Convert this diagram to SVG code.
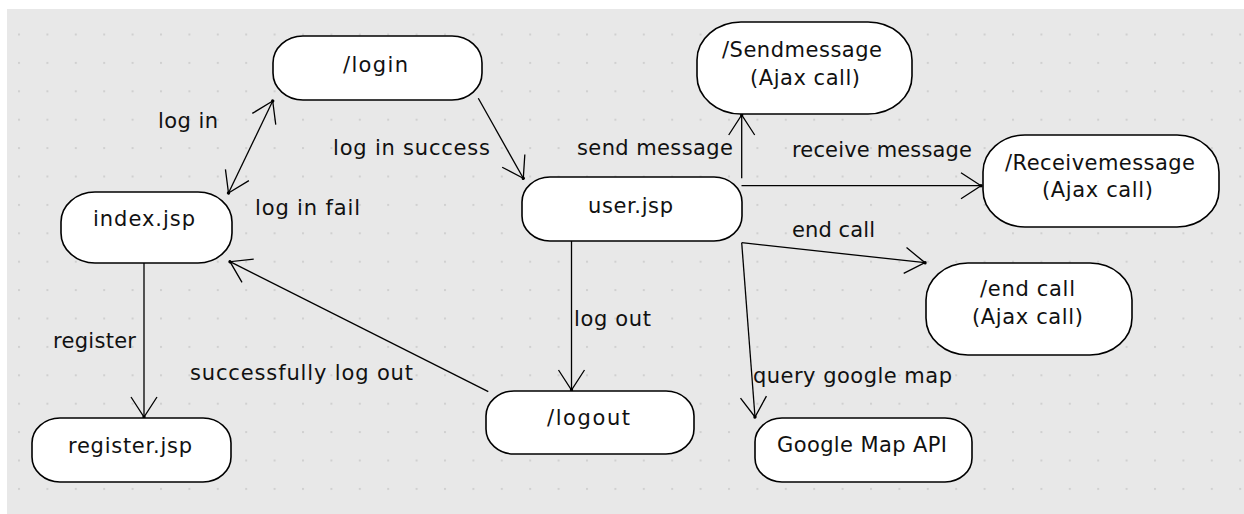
<svg xmlns="http://www.w3.org/2000/svg" width="1244" height="514" viewBox="0 0 1244 514">
  <defs>
    <pattern id="dots" x="18" y="33.5" width="28.4" height="28.4" patternUnits="userSpaceOnUse">
      <rect x="0" y="0" width="2" height="2" fill="#d0d0d0"/>
    </pattern>
    <marker id="arrow" viewBox="-24 -16 28 32" refX="0" refY="0" markerWidth="28" markerHeight="32" markerUnits="userSpaceOnUse" orient="auto-start-reverse">
      <path d="M-20,-13 L0,0 L-20,13" fill="none" stroke="#000" stroke-width="1.3"/>
      <circle cx="0" cy="0" r="1.7" fill="#000"/>
    </marker>
    <style>
      .state { fill: #ffffff; stroke: #000000; stroke-width: 1.6; }
      .edge { fill: none; stroke: #000000; stroke-width: 1.3; marker-end: url(#arrow); }
      text { font-family: "DejaVu Sans", "Liberation Sans", sans-serif; font-size: 21px; fill: #111111; }
    </style>
  </defs>

  <!-- canvas -->
  <rect x="0" y="0" width="1244" height="514" fill="#ffffff"/>
  <rect x="7" y="9" width="1237" height="505" fill="#e8e8e8"/>
  <rect x="7" y="9" width="1237" height="505" fill="url(#dots)"/>

  <!-- transitions -->
  <g id="connectors">
    <line class="edge" x1="228.5" y1="193" x2="272.7" y2="101" marker-start="url(#arrow)"/>
    <text x="158" y="128" textLength="60" lengthAdjust="spacing">log in</text>
    <text x="255" y="215" textLength="105" lengthAdjust="spacing">log in fail</text>

    <line class="edge" x1="478.3" y1="98.3" x2="523.3" y2="178.3"/>
    <text x="333" y="155" textLength="157" lengthAdjust="spacing">log in success</text>

    <line class="edge" x1="144" y1="263" x2="144" y2="417"/>
    <text x="53" y="348" textLength="83" lengthAdjust="spacing">register</text>

    <line class="edge" x1="571.5" y1="241" x2="571.5" y2="390"/>
    <text x="574" y="326" textLength="77" lengthAdjust="spacing">log out</text>

    <line class="edge" x1="488.3" y1="391.7" x2="230" y2="261.7"/>
    <text x="190" y="380" textLength="223" lengthAdjust="spacing">successfully log out</text>

    <line class="edge" x1="741.7" y1="178.3" x2="741.7" y2="115"/>
    <text x="577" y="155" textLength="156" lengthAdjust="spacing">send message</text>

    <line class="edge" x1="741.5" y1="185.7" x2="981" y2="185.7"/>
    <text x="792" y="157" textLength="180" lengthAdjust="spacing">receive message</text>

    <line class="edge" x1="741.7" y1="242.7" x2="925" y2="262.7"/>
    <text x="792" y="237" textLength="83" lengthAdjust="spacing">end call</text>

    <line class="edge" x1="741.7" y1="242.7" x2="755" y2="417"/>
    <text x="753" y="383" textLength="199" lengthAdjust="spacing">query google map</text>
  </g>

  <!-- states -->
  <g id="login">
    <rect class="state" x="273" y="36" width="209" height="64" rx="30" ry="27"/>
    <text x="343" y="72" textLength="65" lengthAdjust="spacing">/login</text>
  </g>
  <g id="index">
    <rect class="state" x="61" y="192" width="171" height="71" rx="34" ry="30"/>
    <text x="93" y="226" textLength="102" lengthAdjust="spacing">index.jsp</text>
  </g>
  <g id="register">
    <rect class="state" x="32" y="418" width="199" height="64" rx="28" ry="25"/>
    <text x="68" y="453" textLength="124" lengthAdjust="spacing">register.jsp</text>
  </g>
  <g id="user">
    <rect class="state" x="522" y="177" width="220" height="64" rx="28" ry="25"/>
    <text x="588" y="213" textLength="85" lengthAdjust="spacing">user.jsp</text>
  </g>
  <g id="logout">
    <rect class="state" x="486" y="391" width="208" height="63" rx="28" ry="25"/>
    <text x="547" y="425" textLength="83" lengthAdjust="spacing">/logout</text>
  </g>
  <g id="sendmessage">
    <rect class="state" x="697" y="22" width="215" height="92" rx="44" ry="38"/>
    <text x="722" y="57" textLength="160" lengthAdjust="spacing">/Sendmessage</text>
    <text x="750" y="85" textLength="110" lengthAdjust="spacing">(Ajax call)</text>
  </g>
  <g id="receivemessage">
    <rect class="state" x="983" y="135" width="236" height="92" rx="42" ry="37"/>
    <text x="1005" y="170" textLength="190" lengthAdjust="spacing">/Receivemessage</text>
    <text x="1042" y="197" textLength="111" lengthAdjust="spacing">(Ajax call)</text>
  </g>
  <g id="endcall">
    <rect class="state" x="926" y="263" width="206" height="92" rx="42" ry="37"/>
    <text x="980" y="296" textLength="95" lengthAdjust="spacing">/end call</text>
    <text x="972" y="324" textLength="111" lengthAdjust="spacing">(Ajax call)</text>
  </g>
  <g id="googlemap">
    <rect class="state" x="755" y="418" width="217" height="64" rx="27" ry="24"/>
    <text x="777" y="452" textLength="170" lengthAdjust="spacing">Google Map API</text>
  </g>
</svg>
